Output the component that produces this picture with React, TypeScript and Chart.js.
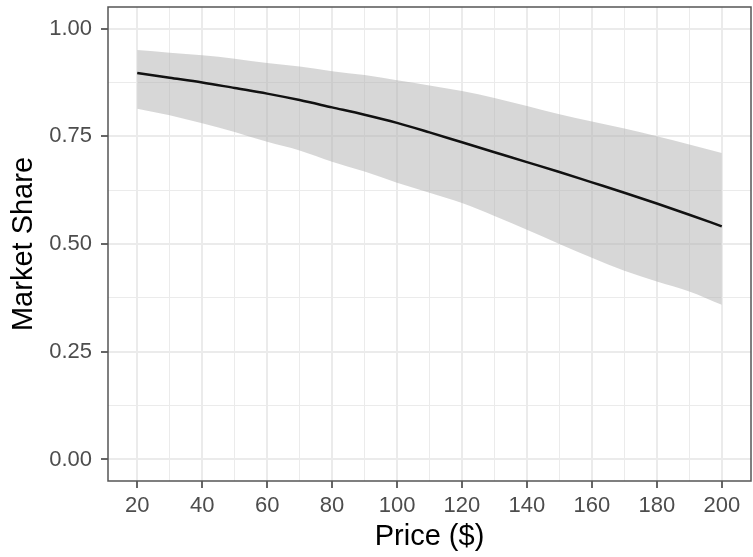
import React, { useEffect, useRef } from "react";
import { Chart, registerables } from "chart.js";

Chart.register(...registerables);

const prices = [20, 30, 40, 50, 60, 70, 80, 90, 100, 110, 120, 130, 140, 150, 160, 170, 180, 190, 200];
const shareMean = [0.897, 0.886, 0.875, 0.862, 0.849, 0.834, 0.817, 0.8, 0.781, 0.759, 0.736, 0.713, 0.69, 0.667, 0.643, 0.619, 0.594, 0.568, 0.541];
const shareUpper = [0.95, 0.944, 0.938, 0.93, 0.92, 0.912, 0.901, 0.892, 0.88, 0.868, 0.855, 0.839, 0.82, 0.801, 0.784, 0.768, 0.75, 0.731, 0.711];
const shareLower = [0.814, 0.799, 0.78, 0.76, 0.737, 0.717, 0.691, 0.668, 0.642, 0.619, 0.595, 0.565, 0.533, 0.5, 0.468, 0.438, 0.413, 0.39, 0.359];

const xMajorTicks = [20, 40, 60, 80, 100, 120, 140, 160, 180, 200];
const xMinorTicks = [30, 50, 70, 90, 110, 130, 150, 170, 190];
const yMajorTicks = [0, 0.25, 0.5, 0.75, 1.0];
const yMinorTicks = [0.125, 0.375, 0.625, 0.875];

const xTitle = "Price ($)";
const yTitle = "Market Share";

const FONT = "'Liberation Sans', Arial, Helvetica, sans-serif";

const borderPlugin = {
  id: "panelBorder",
  afterDraw(chart: any) {
    const { ctx, chartArea } = chart;
    ctx.save();
    ctx.strokeStyle = "#555555";
    ctx.lineWidth = 1.5;
    ctx.strokeRect(chartArea.left, chartArea.top, chartArea.right - chartArea.left, chartArea.bottom - chartArea.top);
    ctx.restore();
  },
};

export default function App() {
  const ref = useRef<HTMLCanvasElement | null>(null);

  useEffect(() => {
    if (!ref.current) return;
    const pts = (ys: number[]) => prices.map((x, i) => ({ x, y: ys[i] }));
    const isMajorX = (v: number) => xMajorTicks.includes(v);
    const isMajorY = (v: number) => yMajorTicks.some((t) => Math.abs(t - v) < 1e-6);

    const chart = new Chart(ref.current, {
      type: "line",
      data: {
        datasets: [
          {
            label: "lower",
            data: pts(shareLower),
            borderWidth: 0,
            borderColor: "rgba(0,0,0,0)",
            pointRadius: 0,
            fill: false,
            order: 2,
            cubicInterpolationMode: "monotone",
          },
          {
            label: "upper",
            data: pts(shareUpper),
            borderWidth: 0,
            borderColor: "rgba(0,0,0,0)",
            backgroundColor: "rgba(176,176,176,0.5)",
            pointRadius: 0,
            fill: "-1",
            order: 1,
            cubicInterpolationMode: "monotone",
          },
          {
            label: "share",
            data: pts(shareMean),
            borderWidth: 2.5,
            borderColor: "#111111",
            pointRadius: 0,
            fill: false,
            order: 0,
            cubicInterpolationMode: "monotone",
          },
        ],
      },
      options: {
        responsive: false,
        animation: false,
        devicePixelRatio: 1,
        layout: { padding: { top: 7, right: 2, left: 0, bottom: 0 } },
        plugins: { legend: { display: false }, tooltip: { enabled: false } },
        scales: {
          x: {
            type: "linear",
            min: 11,
            max: 209,
            afterBuildTicks: (axis: any) => {
              axis.ticks = [...xMajorTicks, ...xMinorTicks].sort((a, b) => a - b).map((v) => ({ value: v }));
            },
            afterFit: (axis: any) => {
              axis.height = 76;
              axis.paddingLeft = 0;
              axis.paddingRight = 0;
            },
            ticks: {
              autoSkip: false,
              maxRotation: 0,
              padding: 5,
              color: "#4d4d4d",
              font: { family: FONT, size: 22 },
              callback: (v: any) => (isMajorX(Number(v)) ? String(v) : ""),
            },
            grid: {
              color: "#ebebeb",
              lineWidth: (c: any) => (isMajorX(c.tick?.value) ? 2 : 1),
              tickLength: 7,
              tickWidth: 1.5,
              tickColor: (c: any) => (isMajorX(c.tick?.value) ? "#333333" : "rgba(0,0,0,0)"),
            },
            border: { display: false },
            title: {
              display: true,
              text: xTitle,
              color: "#000000",
              font: { family: FONT, size: 29, lineHeight: 1 },
              padding: { top: 0, bottom: 5.5 },
            },
          },
          y: {
            type: "linear",
            min: -0.05,
            max: 1.05,
            afterBuildTicks: (axis: any) => {
              axis.ticks = [...yMajorTicks, ...yMinorTicks].sort((a, b) => a - b).map((v) => ({ value: v }));
            },
            afterFit: (axis: any) => {
              axis.width = 108;
              axis.paddingTop = 0;
              axis.paddingBottom = 0;
            },
            ticks: {
              autoSkip: false,
              padding: 9,
              color: "#4d4d4d",
              font: { family: FONT, size: 22 },
              callback: (v: any) => (isMajorY(Number(v)) ? Number(v).toFixed(2) : ""),
            },
            grid: {
              color: "#ebebeb",
              lineWidth: (c: any) => (isMajorY(c.tick?.value) ? 2 : 1),
              tickLength: 7,
              tickWidth: 1.5,
              tickColor: (c: any) => (isMajorY(c.tick?.value) ? "#333333" : "rgba(0,0,0,0)"),
            },
            border: { display: false },
            title: {
              display: true,
              text: yTitle,
              color: "#000000",
              font: { family: FONT, size: 29, lineHeight: 1 },
              padding: { top: 9, bottom: 0 },
            },
          },
        },
      },
      plugins: [borderPlugin],
    } as any);
    return () => chart.destroy();
  }, []);

  return (
    <div style={{ position: "fixed", left: 0, top: 0, width: 753, height: 557, background: "#ffffff" }}>
      <canvas ref={ref} width={753} height={557} />
    </div>
  );
}
